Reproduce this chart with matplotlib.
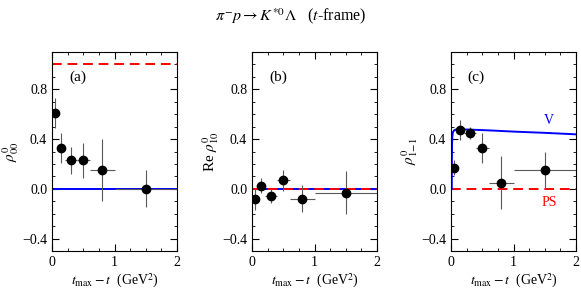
import matplotlib
matplotlib.use("Agg")
import matplotlib.pyplot as plt
from matplotlib.ticker import MultipleLocator

plt.rcParams['font.family'] = ['Liberation Serif', 'DejaVu Serif']
plt.rcParams['mathtext.fontset'] = 'stix'

# bin centres and half-widths (GeV^2)
t_bins = [0.05, 0.15, 0.3, 0.5, 0.8, 1.5]
t_err = [0.05, 0.05, 0.1, 0.1, 0.2, 0.5]

# (a) rho^0_00
rho00 = [0.61, 0.33, 0.23, 0.23, 0.15, 0.0]
rho00_err = [0.12, 0.12, 0.11, 0.14, 0.25, 0.15]

# (b) Re rho^0_10
rho10 = [-0.08, 0.025, -0.055, 0.07, -0.08, -0.03]
rho10_err = [0.09, 0.06, 0.06, 0.085, 0.11, 0.17]

# (c) rho^0_1-1
rho1m1 = [0.17, 0.47, 0.45, 0.33, 0.05, 0.15]
rho1m1_err = [0.06, 0.08, 0.05, 0.12, 0.21, 0.15]

# vector-exchange model curve for panel (c)
v_t = [0.012, 0.014, 0.017, 0.021, 0.03, 0.05, 0.08, 0.15, 0.3, 0.6, 1.0, 1.5, 2.0]
v_rho = [0.0, 0.25, 0.36, 0.42, 0.455, 0.47, 0.477, 0.478, 0.476, 0.47, 0.46, 0.45, 0.438]

fig = plt.figure(figsize=(5.81, 2.90), dpi=100)

lefts = [52 / 581, 252 / 581, 451 / 581]
w = 125 / 581
b = 1 - 251 / 290
h = 199 / 290

axes = [fig.add_axes([l, b, w, h]) for l in lefts]

panels = [
    (rho00, rho00_err, r'$\rho^{0}_{00}$', '(a)'),
    (rho10, rho10_err, r'Re $\rho^{0}_{10}$', '(b)'),
    (rho1m1, rho1m1_err, r'$\rho^{0}_{1\!-\!1}$', '(c)'),
]

for ax, (vals, errs, ylab, tag) in zip(axes, panels):
    ax.set_xlim(0, 2)
    ax.set_ylim(-0.5, 1.1)
    ax.xaxis.set_major_locator(MultipleLocator(1))
    ax.xaxis.set_minor_locator(MultipleLocator(0.25))
    ax.yaxis.set_major_locator(MultipleLocator(0.4))
    ax.yaxis.set_minor_locator(MultipleLocator(0.1))
    ax.set_yticks([-0.4, 0.0, 0.4, 0.8])
    ax.set_yticklabels(['\u22120.4', '0.0', '0.4', '0.8'])
    ax.tick_params(which='both', direction='in', top=True, right=True, labelsize=10)
    ax.tick_params(which='major', length=5, width=0.8)
    ax.tick_params(which='minor', length=2.5, width=0.6)
    ax.set_xlabel(r'$t_{\rm max}-t$  (GeV$^2$)', fontsize=10, labelpad=2)
    ax.set_ylabel(ylab, fontsize=11, labelpad=1)
    ax.text(0.27, 0.90, tag, fontsize=11, va='center')

# panel lines
axes[0].axhline(1.0, color='red', ls=(0, (5, 3)), lw=1.4)
axes[0].axhline(0.0, color='blue', lw=1.4)
axes[1].axhline(0.0, color='blue', lw=1.4)
axes[1].axhline(0.0, color='red', ls=(0, (5, 3)), lw=1.4)
axes[2].axhline(0.0, color='red', ls=(0, (5, 3)), lw=1.4)
axes[2].plot(v_t, v_rho, color='blue', lw=1.4)
axes[2].text(1.57, 0.55, 'V', color='blue', fontsize=10, ha='center', va='center')
axes[2].text(1.57, -0.11, 'PS', color='red', fontsize=10, ha='center', va='center')

for ax, (vals, errs, ylab, tag) in zip(axes, panels):
    ax.errorbar(t_bins, vals, xerr=t_err, yerr=errs, fmt='o', color='black',
                ecolor='0.35', elinewidth=0.8, capsize=0, markersize=6, zorder=5)

fig.text(0.5, 0.945, r'$\pi^{-}p \rightarrow K^{*0}\Lambda$   ($t$-frame)',
         ha='center', va='center', fontsize=11.5)

fig.savefig('out.png', dpi=100)
